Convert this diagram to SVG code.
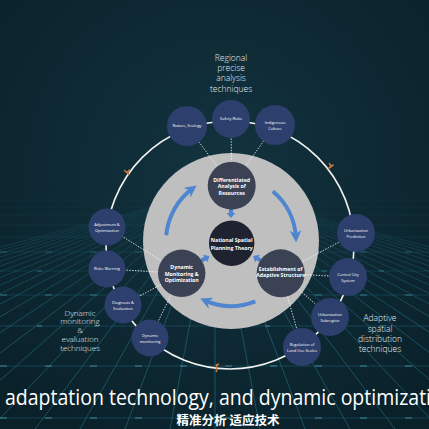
<svg xmlns="http://www.w3.org/2000/svg" width="429" height="429" viewBox="0 0 429 429">
<defs>
<radialGradient id="bg" cx="215" cy="170" r="300" gradientUnits="userSpaceOnUse">
<stop offset="0" stop-color="#12333f"/>
<stop offset="1" stop-color="#0a212a"/>
</radialGradient>
<linearGradient id="fade" x1="0" y1="180" x2="0" y2="320" gradientUnits="userSpaceOnUse">
<stop offset="0" stop-color="#fff" stop-opacity="0"/>
<stop offset="1" stop-color="#fff" stop-opacity="1"/>
</linearGradient>
<mask id="gridMask" maskUnits="userSpaceOnUse" x="0" y="0" width="429" height="429">
<rect x="0" y="0" width="429" height="429" fill="url(#fade)"/>
</mask>
<marker id="ah" viewBox="0 0 10 10" refX="6" refY="5" markerWidth="12" markerHeight="12" markerUnits="userSpaceOnUse" orient="auto">
<path d="M0,0 L10,5 L0,10 L3,5 Z" fill="#4f86cf"/>
</marker>
<polygon id="blk" points="-2,-5 2,-5 2,-1 4.5,-1 0,4 -4.5,-1 -2,-1" fill="#4f86cf"/>
</defs>
<style>
.outer{fill:#2d3f6c}
.inner{fill:#3b4254}
.core{fill:#1f232f}
.ot{font-family:"Open Sans","Liberation Sans",sans-serif;font-size:4px;fill:#fff;text-anchor:middle}
.it{font-family:"Open Sans","Liberation Sans",sans-serif;font-size:5.2px;font-weight:700;fill:#fff;text-anchor:middle}
.lbl{font-family:"Open Sans","Liberation Sans",sans-serif;font-size:8.5px;font-weight:300;fill:#e6e9ec;text-anchor:middle}
.lbs{font-size:8px}
.dot{stroke:#fff;stroke-width:0.9;stroke-dasharray:1.4 1.4;fill:none;opacity:0.9}
.arc{stroke:#4f86cf;stroke-width:4;fill:none;marker-end:url(#ah)}
.grid{stroke:#2a8aa3;stroke-width:0.6;fill:none}
.orange{stroke:#c9773a;stroke-width:1.6;fill:none;stroke-linecap:round}
</style>
<rect x="0" y="0" width="429" height="429" fill="url(#bg)"/>
<g id="floor-grid" mask="url(#gridMask)" opacity="0.75">
<g class="grid">
<path d="M215,190 L-685,429 M215,190 L-640,429 M215,190 L-595,429 M215,190 L-550,429 M215,190 L-505,429 M215,190 L-460,429 M215,190 L-415,429 M215,190 L-370,429 M215,190 L-325,429 M215,190 L-280,429 M215,190 L-235,429 M215,190 L-190,429 M215,190 L-145,429 M215,190 L-100,429 M215,190 L-55,429 M215,190 L-10,429 M215,190 L35,429 M215,190 L80,429 M215,190 L125,429 M215,190 L170,429 M215,190 L215,429 M215,190 L260,429 M215,190 L305,429 M215,190 L350,429 M215,190 L395,429 M215,190 L440,429 M215,190 L485,429 M215,190 L530,429 M215,190 L575,429 M215,190 L620,429 M215,190 L665,429 M215,190 L710,429 M215,190 L755,429 M215,190 L800,429 M215,190 L845,429 M215,190 L890,429 M215,190 L935,429 M215,190 L980,429 M215,190 L1025,429 M215,190 L1070,429 M215,190 L1115,429"/>
<path d="M0,200 H429 M0,207 H429 M0,215 H429 M0,225 H429 M0,237 H429 M0,252 H429 M0,271 H429 M0,295 H429 M0,326 H429 M0,366 H429 M0,418 H429" opacity="0.7"/>
</g>
<g stroke="#6fd9ef" stroke-width="1" opacity="0.7">
<path d="M0,252 H429 M0,295 H429 M0,366 H429 M0,418 H429" stroke-dasharray="7 38"/>
<path d="M0,271 H429 M0,326 H429" stroke-dasharray="5 52" stroke-dashoffset="20"/>
</g>
</g>
<circle id="gray-disc" cx="231" cy="241" r="88" fill="#bfbfbf"/>
<g id="connectors">
<circle id="ring" cx="230" cy="245" r="124" fill="none" stroke="#f2f2f2" stroke-width="1.6"/>
<path class="orange" d="M124.5,170.5 L129,174.5 M127,172.5 L129.5,170"/>
<path class="orange" d="M328.5,168.5 L333,165 M331,166.5 L329.5,163.5"/>
<path class="orange" d="M216.5,364.5 L216.5,371.5 M216.5,366 L218.5,364"/>
<path class="dot" d="M187,126 L231.7,185.7 M231,119 L231.7,185.7 M275,125 L231.7,185.7"/>
<path class="dot" d="M107,227 L181.7,273.3 M107,269 L181.7,273.3 M123,305 L181.7,273.3 M150,338 L181.7,273.3"/>
<path class="dot" d="M356,233 L280.7,273.3 M348,277 L280.7,273.3 M330,317 L280.7,273.3 M302,347 L280.7,273.3"/>
<path class="arc" d="M166.25,235.3 A65,65 0 0 1 192.8,188.4"/>
<path class="arc" d="M272.8,191.2 A65,65 0 0 1 295.9,237.6"/>
<path class="arc" d="M255.3,301.3 A65,65 0 0 1 204.6,300.4"/>
<use href="#blk" transform="translate(231,214)"/>
<use href="#blk" transform="translate(206,258) rotate(-121)"/>
<use href="#blk" transform="translate(256.5,258) rotate(121)"/>
</g>
<g id="node-differentiated"><circle class="inner" cx="231.7" cy="185.7" r="24"/>
<text class="it" x="231.7" y="181.8">Differentiated</text><text class="it" x="231.7" y="188.3">Analysis of</text><text class="it" x="231.7" y="194.8">Resources</text></g>
<g id="node-national"><circle class="core" cx="231.7" cy="243.3" r="22.7"/>
<text class="it" x="231.7" y="242">National Spatial</text><text class="it" x="231.7" y="249.5">Planning Theory</text></g>
<g id="node-dynamic-monitoring-opt"><circle class="inner" cx="181.7" cy="273.3" r="23.7"/>
<text class="it" x="181.7" y="268.9">Dynamic</text><text class="it" x="181.7" y="275.6">Monitoring &amp;</text><text class="it" x="181.7" y="282.3">Optimization</text></g>
<g id="node-establishment"><circle class="inner" cx="280.7" cy="273.3" r="24"/>
<text class="it" x="280.7" y="270.8">Establishment of</text><text class="it" x="280.7" y="277.3">Adaptive Structure</text></g>
<g id="node-nature"><circle class="outer" cx="187" cy="126" r="20"/><text class="ot" x="187" y="127.4">Nature, Ecology</text></g>
<g id="node-safety"><circle class="outer" cx="231" cy="119" r="19"/><text class="ot" x="231" y="120.4">Safety Risks</text></g>
<g id="node-indigenous"><circle class="outer" cx="275" cy="125" r="20"/><text class="ot" x="275" y="123.6">Indigenous</text><text class="ot" x="275" y="129.6">Culture</text></g>
<g id="node-adjustment"><circle class="outer" cx="107" cy="227" r="18.5"/><text class="ot" x="107" y="225.6">Adjustment &amp;</text><text class="ot" x="107" y="231.6">Optimization</text></g>
<g id="node-risks"><circle class="outer" cx="107" cy="269" r="18.5"/><text class="ot" x="107" y="270.4">Risks Warning</text></g>
<g id="node-diagnosis"><circle class="outer" cx="123" cy="305" r="18.5"/><text class="ot" x="123" y="303.6">Diagnosis &amp;</text><text class="ot" x="123" y="309.6">Evaluation</text></g>
<g id="node-dynamic-monitoring"><circle class="outer" cx="150" cy="338" r="18.5"/><text class="ot" x="150" y="336.6">Dynamic</text><text class="ot" x="150" y="342.6">monitoring</text></g>
<g id="node-urban-prediction"><circle class="outer" cx="356" cy="233" r="19"/><text class="ot" x="356" y="231.6">Urbanization</text><text class="ot" x="356" y="237.6">Prediction</text></g>
<g id="node-central-city"><circle class="outer" cx="348" cy="277" r="19"/><text class="ot" x="348" y="275.6">Central City</text><text class="ot" x="348" y="281.6">System</text></g>
<g id="node-urban-subregion"><circle class="outer" cx="330" cy="317" r="19"/><text class="ot" x="330" y="315.6">Urbanization</text><text class="ot" x="330" y="321.6">Subregion</text></g>
<g id="node-regulation"><circle class="outer" cx="302" cy="347" r="19"/><text class="ot" x="302" y="345.6">Regulation of</text><text class="ot" x="302" y="351.6">Land Use Scales</text></g>
<g id="label-regional"><text class="lbl" x="231" y="60.5">Regional</text><text class="lbl" x="231" y="71">precise</text><text class="lbl" x="231" y="81.3">analysis</text><text class="lbl" x="231" y="91.6">techniques</text></g>
<g id="label-dynamic"><text class="lbl lbs" x="80" y="315.5">Dynamic</text><text class="lbl lbs" x="80" y="324.3">monitoring</text><text class="lbl lbs" x="80" y="333.1">&amp;</text><text class="lbl lbs" x="80" y="341.9">evaluation</text><text class="lbl lbs" x="80" y="350.7">techniques</text></g>
<g id="label-adaptive"><text class="lbl" x="380" y="321.4">Adaptive</text><text class="lbl" x="380" y="331.8">spatial</text><text class="lbl" x="380" y="342.2">distribution</text><text class="lbl" x="380" y="352.4">techniques</text></g>
<text x="5" y="405" textLength="426" lengthAdjust="spacingAndGlyphs" font-family="'Open Sans','Liberation Sans',sans-serif" font-size="21" fill="#ffffff">adaptation technology, and dynamic optimizati</text>
<text x="228" y="424.5" text-anchor="middle" font-family="'Noto Sans CJK SC',sans-serif" font-size="12.5" font-weight="700" fill="#ffffff">精准分析 适应技术</text>
</svg>
